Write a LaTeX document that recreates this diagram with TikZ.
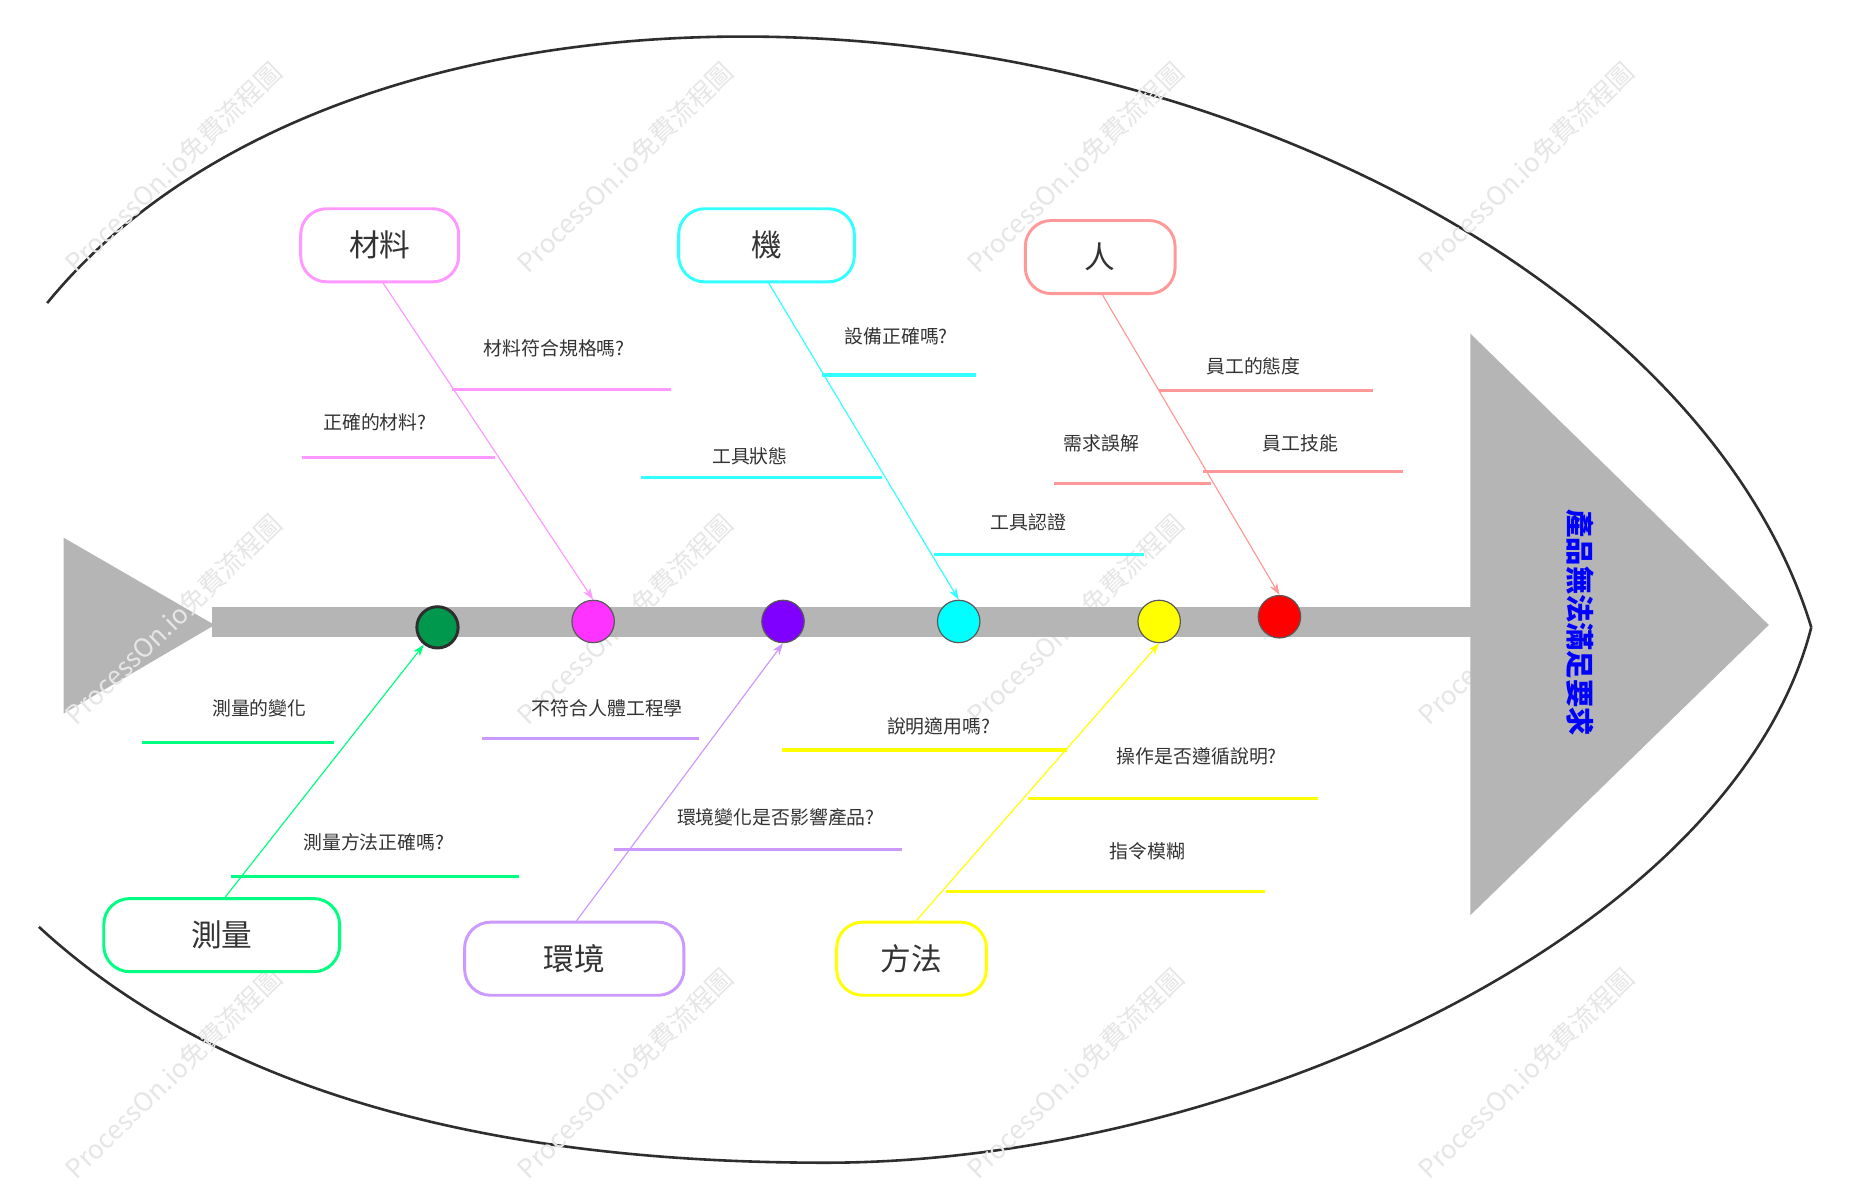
\documentclass[tikz,border=0pt]{standalone}
\usepackage{fontspec}
\setmainfont{Noto Sans CJK TC}
\usetikzlibrary{arrows.meta,calc}
\definecolor{txt}{HTML}{333333}
\definecolor{fishgray}{HTML}{B5B5B5}
\definecolor{outline}{HTML}{2E2E2E}
\definecolor{cpink}{HTML}{FF99FF}
\definecolor{ccyan}{HTML}{33FFFF}
\definecolor{csalmon}{HTML}{FF9999}
\definecolor{cgreen}{HTML}{00FF80}
\definecolor{clav}{HTML}{CC99FF}
\definecolor{cyel}{HTML}{FFFF00}
\definecolor{dgreen}{HTML}{00984C}
\definecolor{dmag}{HTML}{FF33FF}
\definecolor{dpur}{HTML}{7F00FF}
\definecolor{dcyan}{HTML}{00FFFF}
\definecolor{dyel}{HTML}{FFFF00}
\definecolor{dred}{HTML}{FF0000}
\definecolor{wm}{HTML}{E6E6E6}
\begin{document}
\begin{tikzpicture}[x=1pt,y=-1pt,
  catbox/.style={draw=#1, line width=2.5pt, rounded corners=22pt, fill=white,
    font=\fontsize{26}{30}\selectfont, text=txt, inner sep=0pt, minimum height=62pt},
  subline/.style={draw=#1, line width=2.6pt},
  bone/.style={draw=#1, line width=1pt, -{Stealth[length=10pt,width=7pt]}},
  lbl/.style={font=\fontsize{16}{19}\selectfont, text=txt, inner sep=0pt},
  dot/.style={circle, fill=#1, draw=outline!80, line width=1pt, minimum size=36pt, inner sep=0pt},
  wmark/.style={font=\fontsize{22}{24}\selectfont, text=wm, rotate=44, inner sep=0pt}
]
\useasboundingbox (0,0) rectangle (1568,1018);
\fill[white] (0,0) rectangle (1568,1018);

% outer fish outline
\draw[outline, line width=2.2pt] (40,257) .. controls (160,110) and (380,31) .. (630,31)
  .. controls (1050,31) and (1450,250) .. (1536,532);
\draw[outline, line width=2.2pt] (33,786) .. controls (200,940) and (450,986) .. (700,986)
  .. controls (1050,986) and (1470,790) .. (1536,532);

% tail
\fill[fishgray] (54,456) -- (182,530) -- (54,605) -- cycle;

% watermarks
\foreach \wx/\wy [count=\i] in {147/142,530/142,912/142,1294/142,147/525,530/525,912/525,1294/525,147/910,530/910,912/910,1294/910}
  \node[wmark] (wm\i) at (\wx,\wy) {ProcessOn.io免費流程圖};

% spine and head
\fill[fishgray] (180,515) rectangle (1248,540);
\fill[fishgray] (1247,283) -- (1500,530) -- (1247,776) -- cycle;

% title
\node[rotate=-90, font=\bfseries\fontsize{24}{26}\selectfont, text=blue, inner sep=0pt] (title) at (1340,528) {產品無法滿足要求};

% spine dots
\node[dot=dgreen, draw=outline, line width=2.5pt, minimum size=35pt] (c1) at (371,532) {};
\node[dot=dmag] (c2) at (503,527) {};
\node[dot=dpur] (c3) at (664,527) {};
\node[dot=dcyan] (c4) at (813,527) {};
\node[dot=dyel] (c5) at (983,527) {};
\node[dot=dred] (c6) at (1085,523) {};

% category boxes
\node[catbox=cpink, minimum width=134pt] (mat) at (322,208) {材料};
\node[catbox=ccyan, minimum width=149pt] (mach) at (650,208) {機};
\node[catbox=csalmon, minimum width=127pt] (man) at (933,218) {人};
\node[catbox=cgreen, minimum width=200pt] (meas) at (188,793) {測量};
\node[catbox=clav, minimum width=186pt] (env) at (487,813) {環境};
\node[catbox=cyel, minimum width=127pt] (meth) at (773,813) {方法};

% main bones
\draw[bone=cpink] ([xshift=3pt]mat.south) -- (c2.north);
\draw[bone=ccyan] ([xshift=2pt]mach.south) -- (c4.north);
\draw[bone=csalmon] ([xshift=2pt]man.south) -- (c6.north);
\draw[bone=cgreen] ([xshift=3pt]meas.north) -- (c1);
\draw[bone=clav] ([xshift=2pt]env.north) -- (c3.south);
\draw[bone=cyel] ([xshift=4pt]meth.north) -- (c5.south);

% sub-bones: 材料
\coordinate (m1a) at (383,330); \coordinate (m1b) at (569,330);
\coordinate (m2a) at (256,388); \coordinate (m2b) at (420,388);
\draw[subline=cpink] (m1a) -- (m1b);
\draw[subline=cpink] (m2a) -- (m2b);
\node[lbl] (t1) at (470,295) {材料符合規格嗎?};
\node[lbl] (t2) at (318,358) {正確的材料?};

% 機
\coordinate (k1a) at (697,318); \coordinate (k1b) at (828,318);
\coordinate (k2a) at (544,405); \coordinate (k2b) at (748,405);
\coordinate (k3a) at (792,470); \coordinate (k3b) at (970,470);
\draw[subline=ccyan] (k1a) -- (k1b);
\draw[subline=ccyan] (k2a) -- (k2b);
\draw[subline=ccyan] (k3a) -- (k3b);
\node[lbl] (t3) at (760,285) {設備正確嗎?};
\node[lbl] (t4) at (636,387) {工具狀態};
\node[lbl] (t5) at (872,443) {工具認證};

% 人
\coordinate (r1a) at (983,331); \coordinate (r1b) at (1164,331);
\coordinate (r2a) at (894,410); \coordinate (r2b) at (1027,410);
\coordinate (r3a) at (1020,400); \coordinate (r3b) at (1190,400);
\draw[subline=csalmon] (r1a) -- (r1b);
\draw[subline=csalmon] (r2a) -- (r2b);
\draw[subline=csalmon] (r3a) -- (r3b);
\node[lbl] (t6) at (1063,311) {員工的態度};
\node[lbl] (t7) at (934,376) {需求誤解};
\node[lbl] (t8) at (1103,376) {員工技能};

% 測量
\coordinate (g1a) at (120,630); \coordinate (g1b) at (283,630);
\coordinate (g2a) at (196,743); \coordinate (g2b) at (440,743);
\draw[subline=cgreen] (g1a) -- (g1b);
\draw[subline=cgreen] (g2a) -- (g2b);
\node[lbl] (t9) at (220,601) {測量的變化};
\node[lbl] (t10) at (317,714) {測量方法正確嗎?};

% 環境
\coordinate (e1a) at (409,626); \coordinate (e1b) at (593,626);
\coordinate (e2a) at (521,720); \coordinate (e2b) at (765,720);
\draw[subline=clav] (e1a) -- (e1b);
\draw[subline=clav] (e2a) -- (e2b);
\node[lbl] (t11) at (515,601) {不符合人體工程學};
\node[lbl] (t12) at (658,693) {環境變化是否影響產品?};

% 方法
\coordinate (y1a) at (663,636); \coordinate (y1b) at (905,636);
\coordinate (y2a) at (872,677); \coordinate (y2b) at (1118,677);
\coordinate (y3a) at (802,756); \coordinate (y3b) at (1073,756);
\draw[subline=cyel] (y1a) -- (y1b);
\draw[subline=cyel] (y2a) -- (y2b);
\draw[subline=cyel] (y3a) -- (y3b);
\node[lbl] (t13) at (796,616) {說明適用嗎?};
\node[lbl] (t14) at (1015,641) {操作是否遵循說明?};
\node[lbl] (t15) at (973,722) {指令模糊};
\end{tikzpicture}
\end{document}
